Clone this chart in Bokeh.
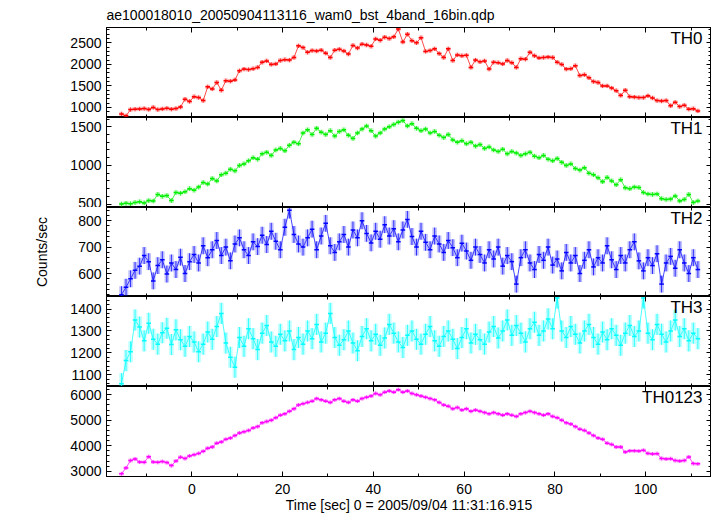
import numpy as np
from bokeh.plotting import figure
from bokeh.layouts import column
from bokeh.models import ColumnDataSource, Range1d, LinearAxis, SingleIntervalTicker, Label
from bokeh.embed import file_html
from bokeh.resources import INLINE

# ---------------- data (1 s bins) ----------------
time = np.arange(-15.5, 112.0, 1.0)

th0 = [850, 805, 950, 960, 965, 975, 955, 1000, 950, 965, 980, 960, 975, 1010, 1190, 1140,
       1250, 1230, 1160, 1480, 1430, 1580, 1400, 1620, 1610, 1640, 1850, 1890, 1880, 1900, 1930, 2050,
       2080, 2000, 2010, 2090, 2110, 2100, 2160, 2430, 2390, 2280, 2320, 2310, 2330, 2260, 2160, 2330,
       2350, 2310, 2240, 2440, 2380, 2470, 2450, 2420, 2590, 2560, 2630, 2600, 2640, 2820, 2520, 2700,
       2550, 2500, 2620, 2300, 2320, 2360, 2250, 2160, 2360, 2090, 2220, 2200, 2210, 1930, 2100, 2060,
       2080, 1890, 2050, 2040, 2010, 2090, 2040, 1930, 2130, 2120, 2280, 2200, 2150, 2160, 2170, 2160,
       2050, 2000, 1890, 1900, 1970, 1740, 1760, 1690, 1600, 1580, 1500, 1500, 1450, 1390, 1280, 1400,
       1250, 1240, 1230, 1230, 1270, 1220, 1160, 1150, 1160, 1040, 1120, 1020, 1050, 960, 970, 920]

th1 = [500, 510, 505, 520, 530, 515, 545, 540, 625, 600, 610, 545, 650, 640, 660, 700,
       680, 720, 780, 760, 830, 800, 880, 900, 950, 930, 1000, 1020, 1060, 1100, 1080, 1150,
       1170, 1130, 1200, 1220, 1190, 1260, 1300, 1280, 1420, 1460, 1400, 1480, 1430, 1400, 1450, 1380,
       1440, 1460, 1390, 1350, 1420, 1470, 1510, 1450, 1380, 1420, 1470, 1500, 1530, 1560, 1580, 1510,
       1540, 1480, 1450, 1470, 1420, 1440, 1390, 1360, 1400, 1330, 1300, 1320, 1280, 1300, 1250, 1270,
       1220, 1240, 1200, 1180, 1210, 1150, 1180, 1160, 1130, 1150, 1170, 1120, 1100, 1130, 1080, 1060,
       1090, 1040, 1000, 1020, 960, 940, 970, 900, 880, 840, 790, 845, 800, 750, 815, 710,
       700, 720, 715, 650, 630, 625, 630, 570, 560, 565, 605, 540, 560, 625, 520, 540]

th2 = [520, 548, 580, 612, 628, 668, 645, 572, 630, 652, 598, 640, 615, 662, 600, 645,
       672, 640, 705, 660, 690, 725, 668, 700, 648, 712, 735, 690, 668, 720, 702, 745,
       710, 760, 722, 690, 775, 840, 748, 712, 700, 735, 768, 690, 742, 790, 705, 680,
       720, 748, 700, 765, 735, 800, 752, 716, 760, 730, 785, 742, 770, 720, 765, 805,
       740, 700, 760, 718, 690, 742, 712, 680, 725, 698, 660, 715, 685, 650, 700, 672,
       640, 690, 655, 700, 628, 668, 645, 560, 660, 690, 640, 615, 672, 650, 700, 632,
       655, 610, 680, 640, 668, 600, 650, 690, 625, 660, 640, 705, 652, 615, 668, 640,
       690, 720, 648, 610, 660, 630, 675, 560, 640, 665, 620, 690, 640, 600, 660, 615]

th3 = [1060, 1165, 1205, 1350, 1318, 1255, 1335, 1262, 1240, 1292, 1312, 1238, 1305, 1260, 1230, 1275,
       1250, 1205, 1240, 1295, 1262, 1320, 1380, 1245, 1180, 1135, 1270, 1230, 1310, 1265, 1215, 1290,
       1325, 1250, 1230, 1285, 1255, 1300, 1215, 1270, 1240, 1300, 1265, 1330, 1250, 1290, 1380, 1270,
       1235, 1260, 1300, 1245, 1210, 1275, 1310, 1255, 1285, 1235, 1268, 1330, 1290, 1250, 1225, 1280,
       1300, 1262, 1240, 1285, 1320, 1255, 1230, 1275, 1300, 1262, 1220, 1270, 1310, 1245, 1285, 1260,
       1240, 1295, 1320, 1268, 1300, 1350, 1280, 1325, 1290, 1250, 1310, 1340, 1280, 1300, 1355, 1310,
       1450, 1300, 1270, 1320, 1285, 1245, 1300, 1330, 1270, 1240, 1295, 1260, 1310, 1280, 1235, 1290,
       1325, 1275, 1300, 1450, 1290, 1260, 1330, 1285, 1250, 1300, 1350, 1275, 1310, 1255, 1290, 1265]

th0123 = [2900, 3130, 3420, 3480, 3360, 3350, 3570, 3360, 3350, 3380, 3340, 3220, 3400, 3550, 3500, 3600,
          3650, 3700, 3780, 3900, 3950, 4100, 4150, 4250, 4300, 4400, 4500, 4550, 4600, 4700, 4750, 4900,
          4950, 5000, 5100, 5200, 5250, 5350, 5450, 5600, 5650, 5700, 5750, 5850, 5800, 5750, 5700, 5800,
          5850, 5750, 5700, 5800, 5750, 5850, 5900, 5950, 6050, 6000, 6100, 6150, 6100, 6200, 6100, 6150,
          6050, 6000, 5950, 5900, 5850, 5800, 5700, 5600, 5550, 5450, 5500, 5400, 5450, 5350, 5400, 5350,
          5300, 5250, 5300, 5250, 5200, 5250, 5200, 5150, 5250, 5300, 5350, 5300, 5250, 5200, 5250, 5150,
          5100, 5000, 4900, 4850, 4750, 4650, 4600, 4500, 4400, 4300, 4250, 4100, 4050, 3950, 3950, 3750,
          3800, 3800, 3790, 3820, 3700, 3680, 3690, 3500, 3480, 3490, 3420, 3400, 3420, 3560, 3300, 3290]

# typical 1-sigma error of each band (counts/sec)
errors = {"TH0": 50, "TH1": 30, "TH2": 32, "TH3": 48, "TH0123": 75}

names = ["TH0", "TH1", "TH2", "TH3", "TH0123"]
series = [th0, th1, th2, th3, th0123]
colors = ["#ff0000", "#00f000", "#0000ff", "#00ffff", "#ff00ff"]
y_ranges = [(767, 2856), (456, 1620), (513, 850), (1047, 1457), (2793, 6324)]
y_major = [500, 500, 100, 100, 1000]
x_range_limits = (-18.8, 114.5)

title_text = "ae100018010_20050904113116_wam0_bst_4band_16bin.qdp"
x_label = "Time [sec] 0 = 2005/09/04 11:31:16.915"
y_label = "Counts/sec"

# ---------------- layout ----------------
FONT = "Liberation Sans"
FW = 605
FH = [90, 90, 89, 90, 90]
LEFT = 106

xr = Range1d(*x_range_limits)


def style_axis(ax, labels):
    ax.major_tick_in = 5
    ax.major_tick_out = 0
    ax.minor_tick_in = 3
    ax.minor_tick_out = 0
    ax.axis_line_color = "black"
    ax.major_tick_line_color = "black"
    ax.minor_tick_line_color = "black"
    if labels:
        ax.major_label_text_font = FONT
        ax.major_label_text_font_size = "14px"
        ax.major_label_text_color = "black"
        ax.major_label_standoff = 5
    else:
        ax.major_label_text_font_size = "1px"
        ax.major_label_text_color = None
        ax.major_label_standoff = 0


figs = []
for i, (name, vals, color, yr, maj) in enumerate(zip(names, series, colors, y_ranges, y_major)):
    first = i == 0
    last = i == len(names) - 1
    p = figure(frame_width=FW, frame_height=FH[i], x_range=xr, y_range=Range1d(*yr),
               output_backend="svg", toolbar_location=None,
               x_axis_location=None, y_axis_location=None,
               min_border_left=LEFT, min_border_right=0,
               min_border_top=0, min_border_bottom=0)
    p.grid.visible = False
    p.outline_line_color = "black"
    p.background_fill_color = "white"
    p.border_fill_color = "white"

    xt = SingleIntervalTicker(interval=20, num_minor_ticks=2)
    yt = SingleIntervalTicker(interval=maj, num_minor_ticks=5)

    left = LinearAxis(ticker=yt)
    style_axis(left, True)
    if i == 2:
        left.axis_label = y_label
        left.axis_label_text_font = FONT
        left.axis_label_text_font_size = "14px"
        left.axis_label_text_font_style = "normal"
        left.axis_label_text_color = "black"
        left.axis_label_standoff = 25
    p.add_layout(left, "left")
    right = LinearAxis(ticker=yt)
    style_axis(right, False)
    p.add_layout(right, "right")
    top = LinearAxis(ticker=xt)
    style_axis(top, False)
    p.add_layout(top, "above")
    bot = LinearAxis(ticker=xt)
    style_axis(bot, last)
    if last:
        bot.major_label_standoff = 7
        bot.axis_label = x_label
        bot.axis_label_text_font = FONT
        bot.axis_label_text_font_size = "14px"
        bot.axis_label_text_font_style = "normal"
        bot.axis_label_text_color = "black"
        bot.axis_label_standoff = 0
    p.add_layout(bot, "below")

    if first:
        p.title.text = title_text
        p.title.align = "left"
        p.title.text_font = FONT
        p.title.text_font_size = "14px"
        p.title.text_font_style = "normal"
        p.title.text_color = "black"
        p.title.offset = 0
        p.title.standoff = 9

    e = errors[name]
    v = np.array(vals, dtype=float)
    src = ColumnDataSource(dict(t=time, t0=time - 0.5, t1=time + 0.5, v=v, lo=v - e, hi=v + e))
    # QDP style: light error box per bin, vertical error bar and horizontal bin-width bar
    p.quad(left="t0", right="t1", bottom="lo", top="hi", source=src,
           fill_color=color, fill_alpha=0.25, line_color=None)
    p.segment(x0="t", y0="lo", x1="t", y1="hi", source=src, line_color=color, line_alpha=0.75, line_width=1)
    p.segment(x0="t0", y0="v", x1="t1", y1="v", source=src, line_color=color, line_width=1.5)
    p.line(x="t", y="v", source=src, line_color=color, line_alpha=0.8, line_width=0.9)

    p.add_layout(Label(x=FW - 9, y=FH[i] - 1, x_units="screen", y_units="screen", text=name,
                       text_align="right", text_baseline="top", text_font=FONT,
                       text_font_size="17px", text_color="black"))
    figs.append(p)

layout = column(*figs, spacing=0)
open("out.html", "w").write(file_html(layout, INLINE))
